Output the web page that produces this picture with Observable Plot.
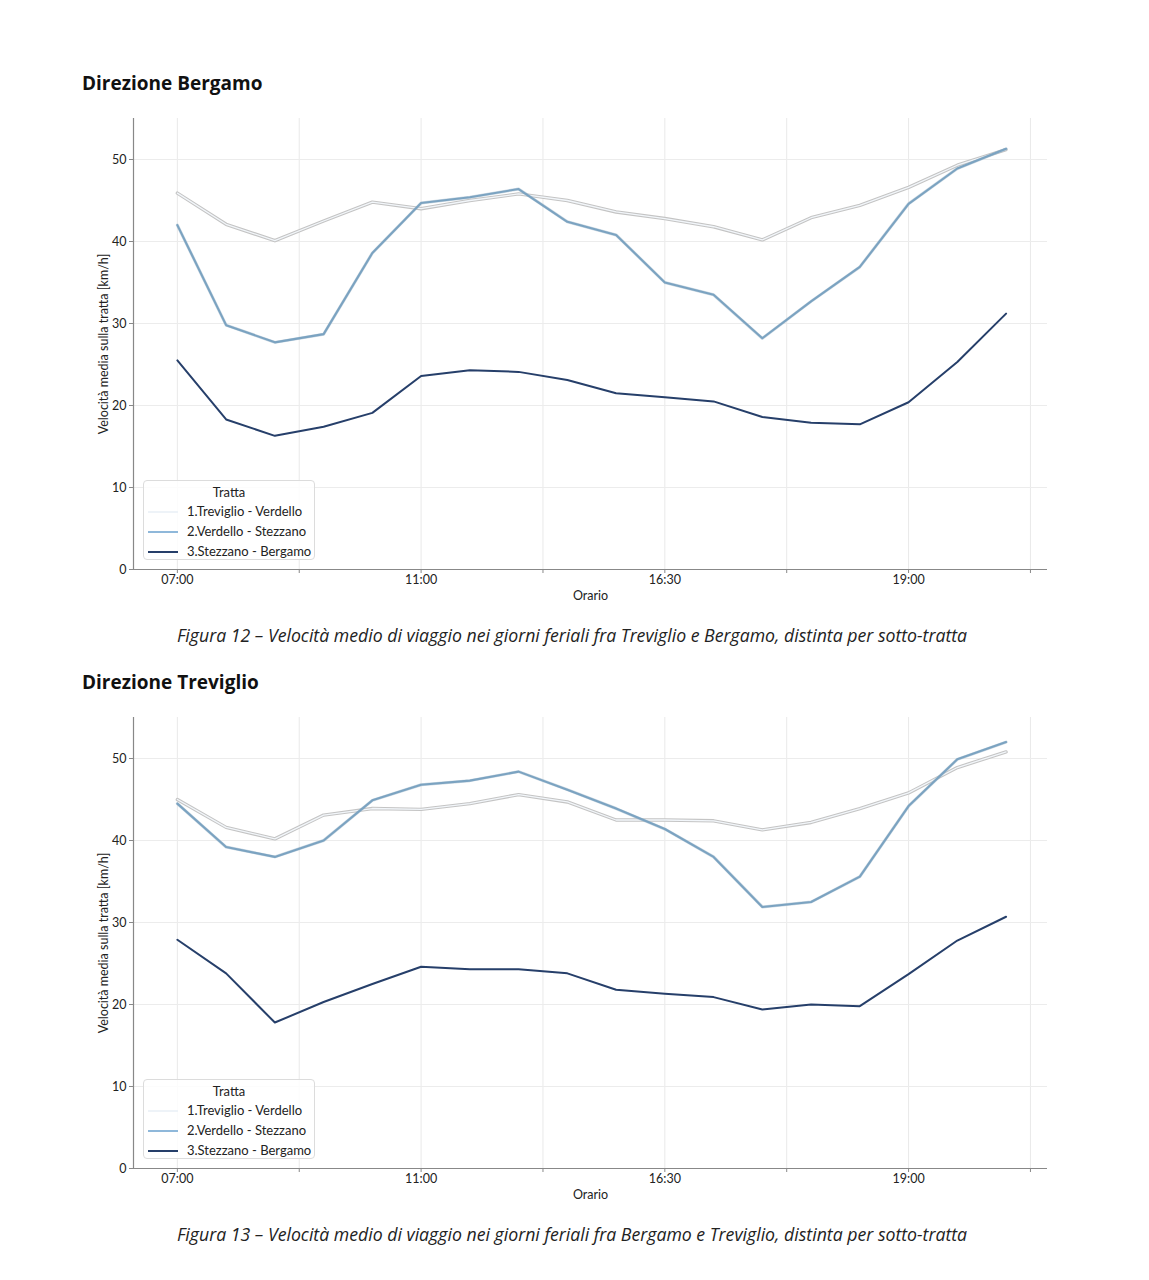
<!DOCTYPE html>
<html>
<head>
<meta charset="utf-8">
<script src="https://cdn.jsdelivr.net/npm/d3@7"></script>
<script src="https://cdn.jsdelivr.net/npm/@observablehq/plot@0.6"></script>
<style>
  html, body { margin: 0; padding: 0; background: #fff; }
  #page { position: relative; width: 1149px; height: 1280px; overflow: hidden; }
  .title { position: absolute; left: 82px; font-family: "Open Sans", "Noto Sans", sans-serif; font-weight: 700; font-size: 19px; color: #111; line-height: 1; white-space: nowrap; }
  .caption { position: absolute; left: 0; width: 1144px; text-align: center; font-family: "Open Sans", "Noto Sans", sans-serif; font-style: italic; font-size: 17.7px; color: #222; line-height: 1; white-space: nowrap; }
  .chart { position: absolute; left: 0; }
  .legend { position: absolute; width: 172px; height: 80px; border: 1px solid #dcdcdc; border-radius: 4px; background: rgba(255,255,255,0.85); font-family: Lato, sans-serif; font-size: 13px; color: #222; box-sizing: border-box; }
  .legend .lt { position: absolute; left: 0; width: 172px; text-align: center; top: 3px; transform: translateX(-1px); }
  .legend .row { position: absolute; left: 0; height: 16px; width: 172px; }
  .legend .sw { position: absolute; left: 4px; top: 8px; width: 30px; height: 0; border-top: 2px solid; }
  .legend .tx { position: absolute; left: 43px; top: 0; white-space: nowrap; }
</style>
</head>
<body>
<div id="page"></div>
<script>
// ---- data ----
const slots = [0, 1, 2, 3, 4, 5, 6, 7, 8, 9, 10, 11, 12, 13, 14, 15, 16, 17];
const xTickPositions = [0, 2.5, 5, 7.5, 10, 12.5, 15, 17.5];
const xTickLabels = ["07:00", "", "11:00", "", "16:30", "", "19:00", ""];
const yTicks = [0, 10, 20, 30, 40, 50];
const seriesNames = ["1.Treviglio - Verdello", "2.Verdello - Stezzano", "3.Stezzano - Bergamo"];
const seriesColors = ["#f2f6fa", "#7ba3c1", "#263f6a"];
const legendColors = ["#eef3f8", "#8fb8da", "#263f6a"];

// Direzione Bergamo
const bergTrevVerd = [45.9, 42.1, 40.1, 42.5, 44.8, 44.0, 45.0, 45.8, 45.0, 43.6, 42.8, 41.8, 40.2, 42.9, 44.4, 46.6, 49.3, 51.2];
const bergVerdStez = [42.0, 29.8, 27.7, 28.7, 38.6, 44.7, 45.4, 46.4, 42.4, 40.8, 35.0, 33.5, 28.2, 32.7, 36.9, 44.6, 48.9, 51.3];
const bergStezBerg = [25.5, 18.3, 16.3, 17.4, 19.1, 23.6, 24.3, 24.1, 23.1, 21.5, 21.0, 20.5, 18.6, 17.9, 17.7, 20.4, 25.3, 31.2];

// Direzione Treviglio
const trevTrevVerd = [45.0, 41.6, 40.2, 43.1, 43.9, 43.8, 44.5, 45.6, 44.7, 42.5, 42.5, 42.4, 41.3, 42.2, 43.9, 45.8, 48.9, 50.8];
const trevVerdStez = [44.5, 39.2, 38.0, 40.0, 44.9, 46.8, 47.3, 48.4, 46.2, 43.9, 41.4, 38.0, 31.9, 32.5, 35.6, 44.2, 49.9, 52.0];
const trevStezBerg = [27.9, 23.8, 17.8, 20.3, 22.5, 24.6, 24.3, 24.3, 23.8, 21.8, 21.3, 20.9, 19.4, 20.0, 19.8, 23.7, 27.8, 30.7];

const panels = [
  { title: "Direzione Bergamo", series: [bergTrevVerd, bergVerdStez, bergStezBerg],
    caption: "Figura 12 \u2013 Velocità medio di viaggio nei giorni feriali fra Treviglio e Bergamo, distinta per sotto-tratta" },
  { title: "Direzione Treviglio", series: [trevTrevVerd, trevVerdStez, trevStezBerg],
    caption: "Figura 13 \u2013 Velocità medio di viaggio nei giorni feriali fra Bergamo e Treviglio, distinta per sotto-tratta" }
];

const page = document.getElementById("page");
const X_DOMAIN = [-0.9, 17.85];

function makeChart(series) {
  const rows = (i) => slots.map((s, k) => ({ slot: s, v: series[i][k], name: seriesNames[i] }));
  const tickLabel = new Map(xTickPositions.map((p, i) => [p, xTickLabels[i]]));
  return Plot.plot({
    width: 1149,
    height: 510,
    marginLeft: 133,
    marginRight: 102,
    marginTop: 18,
    marginBottom: 41,
    style: { fontFamily: "Lato, sans-serif", fontSize: "12.5px", color: "#222", background: "transparent" },
    x: { domain: X_DOMAIN },
    y: { domain: [0, 55] },
    marks: [
      Plot.gridX(xTickPositions, { stroke: "#e9e9e9", strokeOpacity: 1, strokeWidth: 1 }),
      Plot.gridY(yTicks, { stroke: "#ececec", strokeOpacity: 1, strokeWidth: 1 }),
      Plot.lineY(rows(0), { x: "slot", y: "v", stroke: "#c4c4c4", strokeWidth: 3.4 }),
      Plot.lineY(rows(0), { x: "slot", y: "v", stroke: seriesColors[0], strokeWidth: 1.3 }),
      Plot.lineY(rows(1), { x: "slot", y: "v", stroke: "#9ab4c8", strokeWidth: 3, strokeOpacity: 0.5 }),
      Plot.lineY(rows(1), { x: "slot", y: "v", stroke: seriesColors[1], strokeWidth: 2.1 }),
      Plot.lineY(rows(2), { x: "slot", y: "v", stroke: seriesColors[2], strokeWidth: 2 }),
      Plot.ruleX([X_DOMAIN[0]], { stroke: "#888", strokeWidth: 1.2 }),
      Plot.ruleY([0], { stroke: "#888", strokeWidth: 1.2 }),
      Plot.axisX(xTickPositions, {
        tickSize: 4, tickPadding: 2, stroke: "#888",
        tickFormat: (d) => tickLabel.get(d),
        label: "Orario", labelAnchor: "center", labelArrow: "none", labelOffset: 30,
        fontSize: 12.5
      }),
      Plot.axisY(yTicks, {
        tickSize: 4, tickPadding: 3, stroke: "#888",
        label: "Velocità media sulla tratta [km/h]", labelAnchor: "center", labelArrow: "none", labelOffset: 34,
        fontSize: 12.5
      })
    ]
  });
}

function addText(cls, text, top) {
  const d = document.createElement("div");
  d.className = cls;
  d.textContent = text;
  d.style.top = top + "px";
  page.appendChild(d);
  return d;
}

function addLegend(top) {
  const lg = document.createElement("div");
  lg.className = "legend";
  lg.style.left = "143px";
  lg.style.top = top + "px";
  const t = document.createElement("div");
  t.className = "lt";
  t.textContent = "Tratta";
  lg.appendChild(t);
  seriesNames.forEach((n, i) => {
    const r = document.createElement("div");
    r.className = "row";
    r.style.top = (22 + i * 20) + "px";
    const sw = document.createElement("div");
    sw.className = "sw";
    sw.style.borderTopColor = legendColors[i];
    const tx = document.createElement("div");
    tx.className = "tx";
    tx.textContent = n;
    r.appendChild(sw);
    r.appendChild(tx);
    lg.appendChild(r);
  });
  page.appendChild(lg);
}

const offsets = [0, 599];
panels.forEach((p, i) => {
  const off = offsets[i];
  addText("title", p.title, 74 + off);
  const chart = makeChart(p.series);
  chart.classList.add("chart");
  chart.style.top = (100 + off) + "px";
  page.appendChild(chart);
  addLegend(480 + off);
  addText("caption", p.caption, 627 + off);
});
</script>
</body>
</html>
